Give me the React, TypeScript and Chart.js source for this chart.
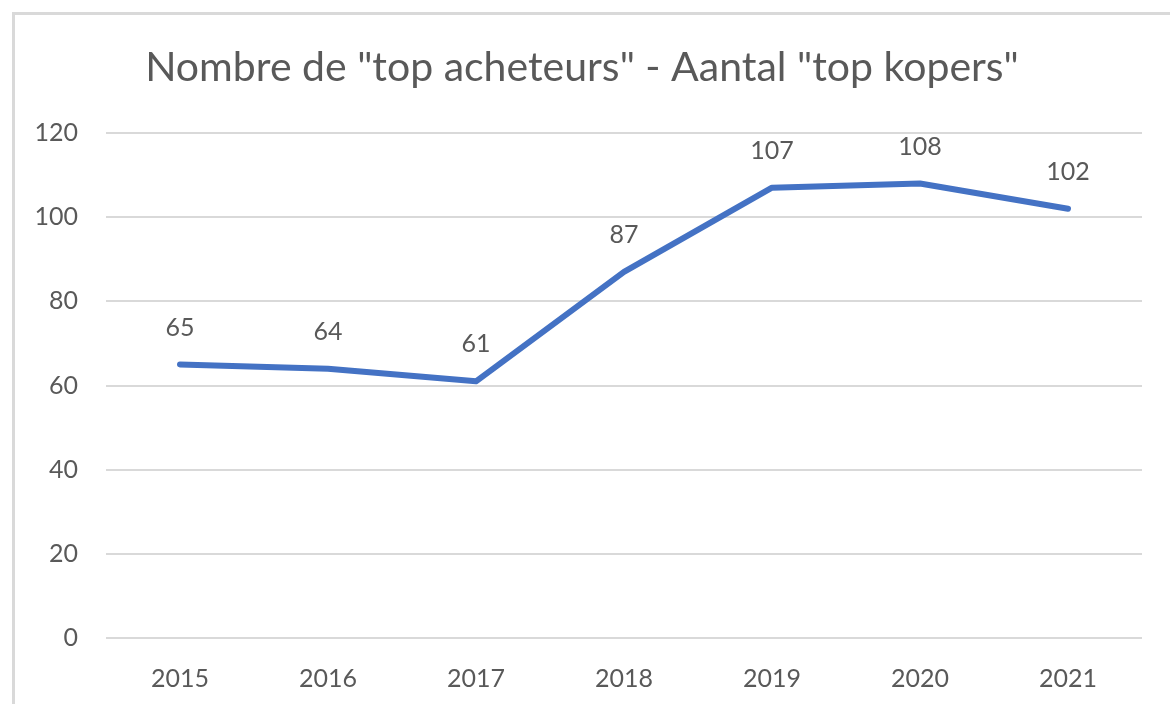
import React, { useEffect, useRef } from "react";
import { Chart, registerables } from "chart.js";

Chart.register(...registerables);

const TITLE = 'Nombre de "top acheteurs" - Aantal "top kopers"';
const years = ["2015", "2016", "2017", "2018", "2019", "2020", "2021"];
const topBuyers = [65, 64, 61, 87, 107, 108, 102];
const yTicks = [0, 20, 40, 60, 80, 100, 120];

const FONT = "Lato, 'Open Sans', sans-serif";
const TEXT = "#595959";

const decor = {
  id: "decor",
  beforeDraw(chart: any) {
    const { ctx } = chart;
    ctx.save();
    ctx.fillStyle = "#ffffff";
    ctx.fillRect(0, 0, chart.width, chart.height);
    ctx.strokeStyle = "#d9d9d9";
    ctx.lineWidth = 3;
    ctx.strokeRect(13.5, 13.5, chart.width + 20, chart.height + 20);
    ctx.restore();
  },
  afterDraw(chart: any) {
    const { ctx } = chart;
    ctx.save();
    ctx.fillStyle = TEXT;
    ctx.font = `41px ${FONT}`;
    ctx.textAlign = "center";
    ctx.textBaseline = "middle";
    ctx.fillText(TITLE, 582, 68);
    ctx.font = `25px ${FONT}`;
    const meta = chart.getDatasetMeta(0);
    meta.data.forEach((pt: any, i: number) => {
      ctx.fillText(String(topBuyers[i]), pt.x, pt.y - 37);
    });
    ctx.restore();
  },
};

export default function App() {
  const ref = useRef<HTMLCanvasElement>(null);
  useEffect(() => {
    const chart = new Chart(ref.current!, {
      type: "line",
      data: {
        labels: years,
        datasets: [
          {
            data: topBuyers,
            borderColor: "#4472c4",
            borderWidth: 6,
            pointRadius: 0,
            tension: 0,
            fill: false,
            borderCapStyle: "round",
            borderJoinStyle: "round",
          },
        ],
      },
      options: {
        responsive: false,
        animation: false,
        layout: { padding: { left: 0, right: 28, top: 133, bottom: 0 } },
        plugins: { legend: { display: false }, title: { display: false }, tooltip: { enabled: false } },
        scales: {
          x: {
            offset: true,
            grid: { display: false, drawTicks: false },
            border: { display: false },
            ticks: { color: TEXT, font: { family: FONT, size: 25 }, padding: 26 },
            afterFit(s: any) {
              s.height = 66;
            },
          },
          y: {
            min: 0,
            max: 120,
            afterBuildTicks(s: any) {
              s.ticks = yTicks.map((v) => ({ value: v }));
            },
            grid: { color: "#d9d9d9", lineWidth: 2, drawTicks: false },
            border: { display: false },
            ticks: { color: TEXT, font: { family: FONT, size: 25 }, padding: 28 },
            afterFit(s: any) {
              s.width = 106;
            },
          },
        },
      },
      plugins: [decor],
    });
    return () => chart.destroy();
  }, []);
  return (
    <div style={{ position: "fixed", left: 0, top: 0, width: 1170, height: 704 }}>
      <canvas ref={ref} width={1170} height={704} />
    </div>
  );
}
